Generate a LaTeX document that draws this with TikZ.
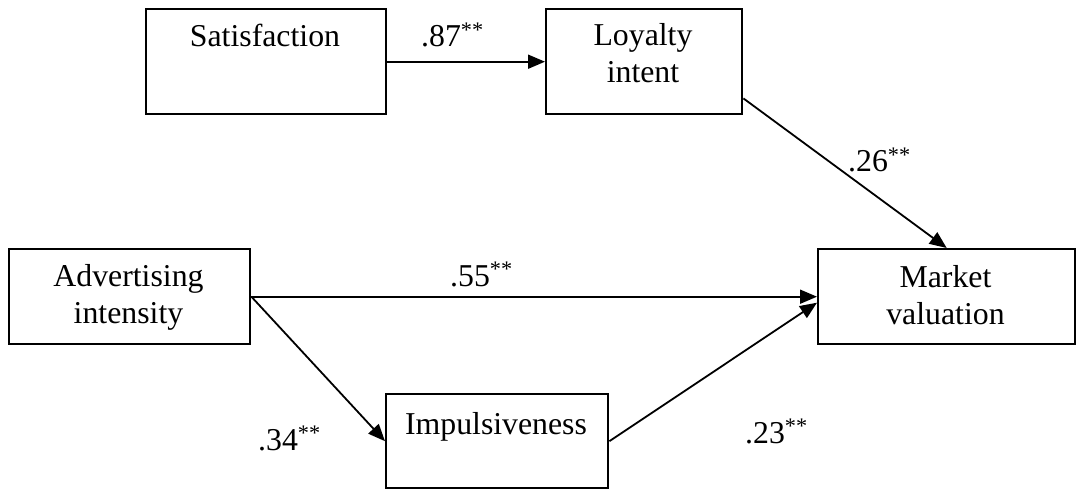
\documentclass[tikz,border=0pt]{standalone}
\usepackage{fontspec}
\setmainfont{Liberation Serif}
\usetikzlibrary{arrows.meta}
\begin{document}
\begin{tikzpicture}[x=1pt,y=-1pt,
  box/.style={draw=black, line width=2.4pt, inner sep=0pt, anchor=north west},
  txt/.style={font=\fontsize{31.8}{37}\selectfont, align=center, inner sep=0pt, anchor=base},
  coef/.style={font=\fontsize{31.8}{37}\selectfont, inner sep=0pt, anchor=base west},
  arr/.style={line width=1.8pt, -{Triangle[length=17pt,width=14pt]}}]
\useasboundingbox (0,0) rectangle (1076,489);
% boxes
\node[box, minimum width=240pt, minimum height=105pt] (sat) at (145,8) {};
\node[box, minimum width=196pt, minimum height=105pt] (loy) at (545,8) {};
\node[box, minimum width=241pt, minimum height=95pt] (adv) at (8,248) {};
\node[box, minimum width=257pt, minimum height=95pt] (mkt) at (817,248) {};
\node[box, minimum width=222pt, minimum height=94pt] (imp) at (385,393) {};
% texts (base anchor = baseline of last line)
\node[txt] (satT) at (265,47) {Satisfaction};
\node[txt] (loyT) at (643,83) {Loyalty\\intent};
\node[txt] (advT) at (128.5,323) {Advertising\\intensity};
\node[txt] (mktT) at (945.5,324) {Market\\valuation};
\node[txt] (impT) at (496,434) {Impulsiveness};
% connectors
\coordinate (loyOut) at ([yshift=17pt]loy.south east);
\coordinate (mktIn) at ([yshift=-6pt]mkt.west);
\draw[arr] (sat.east) -- (loy.west);
\draw[arr] (loyOut) -- (mkt.north);
\draw[arr] (adv.east) -- (mkt.west);
\draw[arr] (adv.east) -- (imp.west);
\draw[arr] (imp.east) -- (mktIn);
% coefficients
\node[coef] (c87) at (421,47) {.87\textsuperscript{**}};
\node[coef] (c26) at (848,172) {.26\textsuperscript{**}};
\node[coef] (c55) at (450,286) {.55\textsuperscript{**}};
\node[coef] (c34) at (258,450) {.34\textsuperscript{**}};
\node[coef] (c23) at (745,443) {.23\textsuperscript{**}};
\end{tikzpicture}
\end{document}
